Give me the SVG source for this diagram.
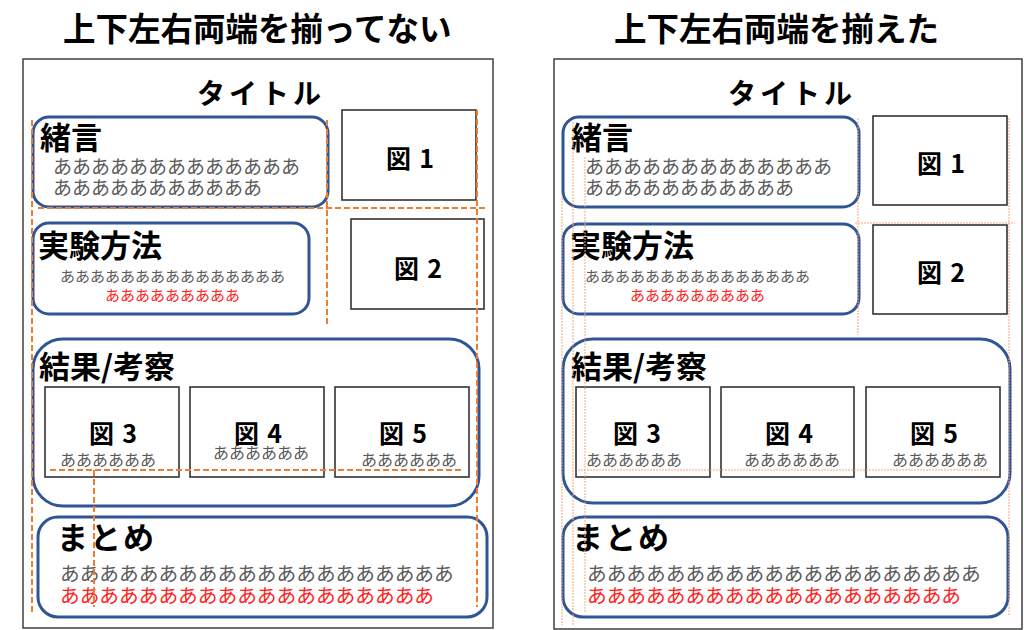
<svg xmlns="http://www.w3.org/2000/svg" width="1024" height="630" viewBox="0 0 1024 630">
<style>
text{font-family:"Noto Sans CJK JP","Noto Sans",sans-serif;}
.bg{fill:#ffffff;}
.frame{fill:#ffffff;stroke:#404040;stroke-width:1.5;}
.head{font-size:32.5px;font-weight:700;fill:#000;}
.title{font-size:28px;font-weight:700;fill:#000;letter-spacing:4px;}
.sec{fill:#ffffff;stroke:#2F5597;stroke-width:3;}
.fig{fill:#ffffff;stroke:#333333;stroke-width:1.6;}
.h2{font-size:31px;font-weight:700;fill:#000;}
.figt{font-size:25px;font-weight:700;fill:#000;}
.g19{font-size:19px;fill:#595959;}
.g15{font-size:15px;fill:#595959;}
.r15{font-size:15px;fill:#FF2020;}
.g16{font-size:16px;fill:#595959;}
.g20{font-size:19.7px;fill:#595959;}
.r20{font-size:19.7px;fill:#FF2020;}
.dash{fill:none;stroke:#ED7D31;stroke-width:2;stroke-dasharray:6 3;}
.dot{fill:none;stroke:#F4A77A;stroke-width:1;stroke-dasharray:2 1;}
</style>
<rect class="bg" x="0" y="0" width="1024" height="630"/>

<!-- Headings -->
<text class="head" x="63" y="41">上下左右両端を揃ってない</text>
<text class="head" x="614" y="41">上下左右両端を揃えた</text>

<!-- LEFT PANEL -->
<g id="left-panel">
<rect class="frame" x="23" y="59" width="470" height="569"/>
<text class="title" x="261" y="104" text-anchor="middle">タイトル</text>
</g>

<g id="L-intro">
<rect class="sec" x="33" y="117" width="295" height="90" rx="16"/>
<text class="h2" x="40" y="149">緒言</text>
<text class="g19" x="53" y="174">あああああああああああああ</text>
<text class="g19" x="53" y="195">あああああああああああ</text>
</g>
<g id="L-fig1">
<rect class="fig" x="342" y="110" width="134" height="90"/>
<text class="figt" x="410" y="168" text-anchor="middle">図<tspan dx="8">1</tspan></text>
</g>
<g id="L-method">
<rect class="sec" x="33" y="223" width="276" height="91" rx="16"/>
<text class="h2" x="38" y="257">実験方法</text>
<text class="g15" x="60" y="282">あああああああああああああああ</text>
<text class="r15" x="105" y="301">あああああああああ</text>
</g>
<g id="L-fig2">
<rect class="fig" x="351" y="219" width="133" height="90"/>
<text class="figt" x="418" y="278" text-anchor="middle">図<tspan dx="8">2</tspan></text>
</g>
<g id="L-result">
<rect class="sec" x="33" y="339" width="446" height="167" rx="30"/>
<text class="h2" x="39" y="378">結果/考察</text>
</g>
<g id="L-fig3">
<rect class="fig" x="45" y="387" width="134" height="90"/>
<text class="figt" x="113" y="443" text-anchor="middle">図<tspan dx="8">3</tspan></text>
<text class="g16" x="60" y="466">ああああああ</text>
</g>
<g id="L-fig4">
<rect class="fig" x="190" y="387" width="134" height="90"/>
<text class="figt" x="258" y="443" text-anchor="middle">図<tspan dx="8">4</tspan></text>
<text class="g16" x="213" y="459">ああああああ</text>
</g>
<g id="L-fig5">
<rect class="fig" x="335" y="387" width="134" height="90"/>
<text class="figt" x="403" y="443" text-anchor="middle">図<tspan dx="8">5</tspan></text>
<text class="g16" x="361" y="466">ああああああ</text>
</g>
<g id="L-summary">
<rect class="sec" x="38" y="517" width="449" height="100" rx="20"/>
<text class="h2" x="57" y="549" letter-spacing="2">まとめ</text>
<text class="g20" x="60" y="581">ああああああああああああああああああああ</text>
<text class="r20" x="60" y="603">あああああああああああああああああああ</text>
</g>

<!-- RIGHT PANEL -->
<g id="right-panel">
<rect class="frame" x="554" y="59" width="468" height="570"/>
<text class="title" x="792" y="104" text-anchor="middle">タイトル</text>
</g>

<g id="R-intro">
<rect class="sec" x="563" y="117" width="296" height="90" rx="16"/>
<text class="h2" x="571" y="149">緒言</text>
<text class="g19" x="585" y="174">あああああああああああああ</text>
<text class="g19" x="585" y="195">あああああああああああ</text>
</g>
<g id="R-fig1">
<rect class="fig" x="873" y="116" width="134" height="89"/>
<text class="figt" x="941" y="173" text-anchor="middle">図<tspan dx="8">1</tspan></text>
</g>
<g id="R-method">
<rect class="sec" x="563" y="224" width="296" height="90" rx="16"/>
<text class="h2" x="570" y="257">実験方法</text>
<text class="g15" x="585" y="282">あああああああああああああああ</text>
<text class="r15" x="630" y="301">あああああああああ</text>
</g>
<g id="R-fig2">
<rect class="fig" x="873" y="225" width="134" height="89"/>
<text class="figt" x="941" y="282" text-anchor="middle">図<tspan dx="8">2</tspan></text>
</g>
<g id="R-result">
<rect class="sec" x="563" y="339" width="447" height="164" rx="30"/>
<text class="h2" x="571" y="378">結果/考察</text>
</g>
<g id="R-fig3">
<rect class="fig" x="576" y="387" width="134" height="90"/>
<text class="figt" x="637" y="443" text-anchor="middle">図<tspan dx="8">3</tspan></text>
<text class="g16" x="586" y="466">ああああああ</text>
</g>
<g id="R-fig4">
<rect class="fig" x="721" y="387" width="133" height="90"/>
<text class="figt" x="789" y="443" text-anchor="middle">図<tspan dx="8">4</tspan></text>
<text class="g16" x="744" y="466">ああああああ</text>
</g>
<g id="R-fig5">
<rect class="fig" x="866" y="387" width="134" height="90"/>
<text class="figt" x="934" y="443" text-anchor="middle">図<tspan dx="8">5</tspan></text>
<text class="g16" x="892" y="466">ああああああ</text>
</g>
<g id="R-summary">
<rect class="sec" x="563" y="517" width="445" height="100" rx="20"/>
<text class="h2" x="572" y="549" letter-spacing="2">まとめ</text>
<text class="g20" x="587" y="581">ああああああああああああああああああああ</text>
<text class="r20" x="587" y="603">あああああああああああああああああああ</text>
</g>

<!-- Guide lines (connectors group) -->
<g id="connectors">
<g id="guides-left">
<line class="dash" x1="32" y1="120" x2="32" y2="615"/>
<line class="dash" x1="327" y1="120" x2="327" y2="327"/>
<line class="dash" x1="477" y1="110" x2="477" y2="607"/>
<line class="dash" x1="38" y1="208" x2="485" y2="208"/>
<line class="dash" x1="50" y1="470" x2="463" y2="470"/>
<line class="dash" x1="94" y1="470" x2="94" y2="607"/>
</g>
<g id="guides-right">
<line class="dot" x1="562" y1="195" x2="562" y2="625"/>
<line class="dot" x1="573" y1="122" x2="573" y2="625"/>
<line class="dot" x1="585" y1="157" x2="585" y2="613"/>
<line class="dot" x1="858" y1="118" x2="858" y2="335"/>
<line class="dot" x1="1009" y1="118" x2="1009" y2="615"/>
<line class="dot" x1="855" y1="223" x2="1015" y2="223"/>
<line class="dot" x1="578" y1="470" x2="990" y2="470"/>
</g>
</g>
</svg>
